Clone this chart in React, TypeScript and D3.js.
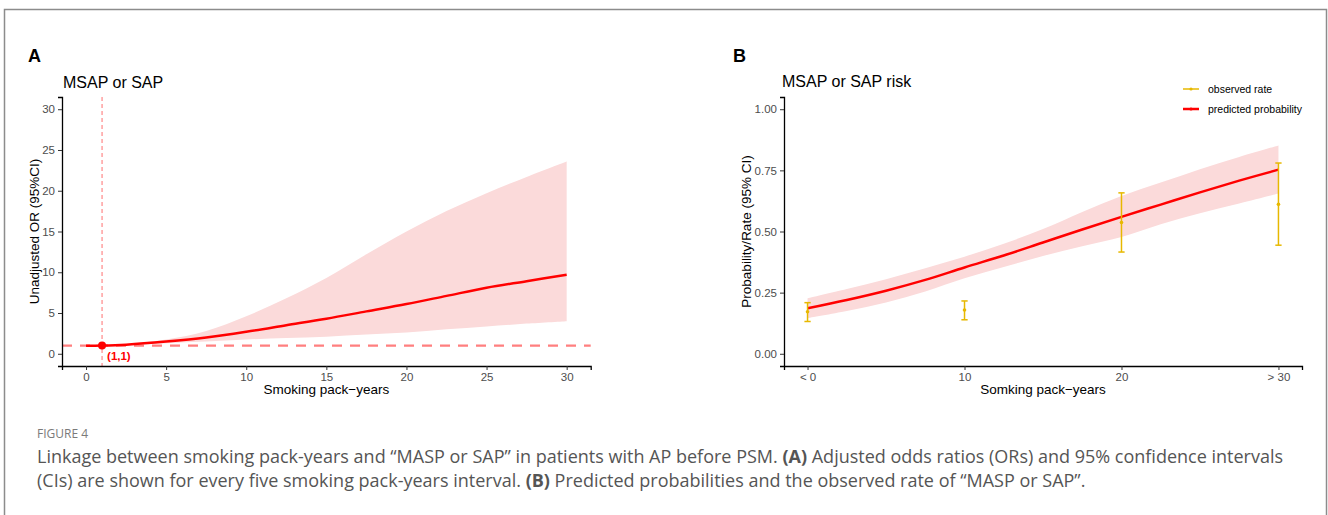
import React, { useEffect, useRef } from 'react';
import * as d3 from 'd3';

// panel A: unadjusted OR by smoking pack-years
const orX = [0, 1, 2.5, 5, 7.5, 10, 12.5, 15, 17.5, 20, 22.5, 25, 27.5, 30];
const orFit = [0.97, 1, 1.12, 1.5, 2.0, 2.7, 3.5, 4.3, 5.2, 6.1, 7.1, 8.1, 8.9, 9.7];
const orLow = [0.95, 1, 1.05, 1.3, 1.5, 1.75, 1.95, 2.1, 2.35, 2.6, 3.0, 3.35, 3.7, 4.0];
const orHigh = [0.99, 1, 1.2, 1.75, 2.8, 4.6, 6.8, 9.3, 12.2, 15.0, 17.5, 19.7, 21.7, 23.6];
const orTicksY = [0, 5, 10, 15, 20, 25, 30];
const orTicksX = [0, 5, 10, 15, 20, 25, 30];

// panel B: predicted probability and observed rate
const probX = [0, 2.5, 5, 7.5, 10, 12.5, 15, 17.5, 20, 22.5, 25, 27.5, 30];
const probFit = [0.186, 0.22, 0.258, 0.302, 0.353, 0.402, 0.455, 0.508, 0.56, 0.61, 0.66, 0.708, 0.753];
const probLow = [0.146, 0.175, 0.21, 0.255, 0.309, 0.355, 0.4, 0.44, 0.478, 0.53, 0.575, 0.615, 0.655];
const probHigh = [0.227, 0.265, 0.305, 0.35, 0.397, 0.45, 0.51, 0.58, 0.645, 0.7, 0.755, 0.805, 0.852];
const obsX = [0, 10, 20, 30];
const obsRate = [0.172, 0.179, 0.537, 0.611];
const obsLow = [0.132, 0.139, 0.416, 0.444];
const obsHigh = [0.209, 0.216, 0.658, 0.78];
const probTicksY = [0, 0.25, 0.5, 0.75, 1];
const probTicksX = [0, 10, 20, 30];
const probTickLabels = ['< 0', '10', '20', '> 30'];
const legendLabels = ['observed rate', 'predicted probability'];

const FONT = '"Liberation Sans", Arial, sans-serif';
const CAP_FONT = '"Open Sans", sans-serif';
const RED = '#FF0000';
const GOLD = '#E7B800';
const BAND = '#FBDADA';

const App = () => {
  const ref = useRef<SVGSVGElement>(null);

  useEffect(() => {
    const svg = d3.select(ref.current);
    svg.selectAll('*').remove();
    svg.attr('width', 1328).attr('height', 515).style('font-family', FONT);

    // outer frame
    svg.append('rect')
      .attr('x', 4.5).attr('y', 9.5).attr('width', 1322).attr('height', 600)
      .attr('fill', 'none').attr('stroke', '#8c8c8c').attr('stroke-width', 1.5);

    const styleAxis = (g: any) => {
      g.select('.domain').attr('stroke', '#000').attr('stroke-width', 1.3);
      g.selectAll('.tick line').attr('stroke', '#333').attr('stroke-width', 1);
      g.selectAll('.tick text').attr('fill', '#4D4D4D').style('font-size', '11.5px').style('font-family', FONT);
    };

    // ---------- Panel A ----------
    const xA = d3.scaleLinear().domain([-1.5, 31.5]).range([62, 590.7]);
    const yA = d3.scaleLinear().domain([-1.5, 31.5]).range([366, 97]);

    svg.append('text').attr('x', 28).attr('y', 62).text('A')
      .style('font-size', '18px').style('font-weight', 'bold');
    svg.append('text').attr('x', 63).attr('y', 88).text('MSAP or SAP').style('font-size', '16px');

    const bandA = d3.area<number>()
      .curve(d3.curveCatmullRom)
      .x((_, i) => xA(orX[i]))
      .y0((_, i) => yA(orLow[i]))
      .y1((_, i) => yA(orHigh[i]));
    svg.append('path').datum(orX).attr('d', bandA).attr('fill', BAND);

    svg.append('line')
      .attr('x1', xA(1)).attr('x2', xA(1)).attr('y1', 97).attr('y2', 366)
      .attr('stroke', '#FF6F6F').attr('stroke-width', 1).attr('stroke-dasharray', '4,3');
    svg.append('line')
      .attr('x1', 62).attr('x2', 590.7).attr('y1', yA(1)).attr('y2', yA(1))
      .attr('stroke', '#FF7F7F').attr('stroke-width', 2.2).attr('stroke-dasharray', '10,8');

    const lineA = d3.line<number>()
      .curve(d3.curveCatmullRom)
      .x((_, i) => xA(orX[i]))
      .y((_, i) => yA(orFit[i]));
    svg.append('path').datum(orX).attr('d', lineA)
      .attr('fill', 'none').attr('stroke', RED).attr('stroke-width', 2.5);

    svg.append('circle').attr('cx', xA(1)).attr('cy', yA(1)).attr('r', 4).attr('fill', RED);
    svg.append('text').attr('x', xA(1) + 5).attr('y', yA(1) + 14).text('(1,1)')
      .attr('fill', RED).style('font-size', '11.5px').style('font-weight', 'bold');

    svg.append('g').attr('transform', 'translate(0,366)')
      .call(d3.axisBottom(xA).tickValues(orTicksX).tickSizeOuter(0).tickSize(4).tickPadding(3))
      .call(styleAxis);
    svg.append('g').attr('transform', 'translate(62,0)')
      .call(d3.axisLeft(yA).tickValues(orTicksY).tickSizeOuter(0).tickSize(4).tickPadding(3))
      .call(styleAxis);

    svg.append('text').attr('x', (62 + 590.7) / 2).attr('y', 394).attr('text-anchor', 'middle')
      .text('Smoking pack\u2212years').style('font-size', '13.5px');
    svg.append('text').attr('transform', `translate(39,${(97 + 366) / 2}) rotate(-90)`)
      .attr('text-anchor', 'middle').text('Unadjusted OR (95%CI)').style('font-size', '13.5px');

    // ---------- Panel B ----------
    const xB = d3.scaleLinear().domain([-1.5, 31.5]).range([784, 1302]);
    const yB = d3.scaleLinear().domain([-0.05, 1.05]).range([366, 97]);

    svg.append('text').attr('x', 733).attr('y', 62).text('B')
      .style('font-size', '18px').style('font-weight', 'bold');
    svg.append('text').attr('x', 782).attr('y', 87).text('MSAP or SAP risk').style('font-size', '16px');

    const bandB = d3.area<number>()
      .curve(d3.curveCatmullRom)
      .x((_, i) => xB(probX[i]))
      .y0((_, i) => yB(probLow[i]))
      .y1((_, i) => yB(probHigh[i]));
    svg.append('path').datum(probX).attr('d', bandB).attr('fill', BAND);

    const lineB = d3.line<number>()
      .curve(d3.curveCatmullRom)
      .x((_, i) => xB(probX[i]))
      .y((_, i) => yB(probFit[i]));
    svg.append('path').datum(probX).attr('d', lineB)
      .attr('fill', 'none').attr('stroke', RED).attr('stroke-width', 2.5);

    const obs = svg.append('g');
    obsX.forEach((x, i) => {
      const cx = xB(x);
      const half = xB(x + 0.2) - cx;
      obs.append('line').attr('x1', cx).attr('x2', cx).attr('y1', yB(obsLow[i])).attr('y2', yB(obsHigh[i]))
        .attr('stroke', GOLD).attr('stroke-width', 1.5);
      [obsLow[i], obsHigh[i]].forEach(v => {
        obs.append('line').attr('x1', cx - half).attr('x2', cx + half).attr('y1', yB(v)).attr('y2', yB(v))
          .attr('stroke', GOLD).attr('stroke-width', 1.5);
      });
      obs.append('circle').attr('cx', cx).attr('cy', yB(obsRate[i])).attr('r', 1.8).attr('fill', GOLD);
    });

    svg.append('g').attr('transform', 'translate(0,366)')
      .call(d3.axisBottom(xB).tickValues(probTicksX).tickSizeOuter(0).tickSize(4).tickPadding(3)
        .tickFormat((_, i) => probTickLabels[i]))
      .call(styleAxis);
    svg.append('g').attr('transform', 'translate(784,0)')
      .call(d3.axisLeft(yB).tickValues(probTicksY).tickSizeOuter(0).tickSize(4).tickPadding(3)
        .tickFormat(d3.format('.2f')))
      .call(styleAxis);

    svg.append('text').attr('x', (784 + 1302) / 2).attr('y', 394).attr('text-anchor', 'middle')
      .text('Somking pack\u2212years').style('font-size', '13.5px');
    svg.append('text').attr('transform', `translate(751,${(97 + 366) / 2}) rotate(-90)`)
      .attr('text-anchor', 'middle').text('Probability/Rate (95% CI)').style('font-size', '13.5px');

    // legend
    const legendColors = [GOLD, RED];
    const legendWidths = [1.5, 2.5];
    legendLabels.forEach((lab, i) => {
      const y = 89 + i * 20;
      svg.append('line').attr('x1', 1183).attr('x2', 1199).attr('y1', y).attr('y2', y)
        .attr('stroke', legendColors[i]).attr('stroke-width', legendWidths[i]);
      svg.append('circle').attr('cx', 1191).attr('cy', y).attr('r', 1.6).attr('fill', legendColors[i]);
      svg.append('text').attr('x', 1208).attr('y', y + 3.8).text(lab).style('font-size', '10.5px');
    });

    // ---------- caption ----------
    svg.append('text').attr('x', 37).attr('y', 438).text('FIGURE 4')
      .attr('fill', '#7a7a7a').style('font-size', '12px').style('font-family', CAP_FONT);

    const cap1 = svg.append('text').attr('x', 37).attr('y', 463)
      .attr('fill', '#555').style('font-size', '18px').style('font-family', CAP_FONT);
    cap1.append('tspan').text('Linkage between smoking pack-years and \u201cMASP or SAP\u201d in patients with AP before PSM. ');
    cap1.append('tspan').text('(A)').style('font-weight', 'bold');
    cap1.append('tspan').text(' Adjusted odds ratios (ORs) and 95% confidence intervals');

    const cap2 = svg.append('text').attr('x', 37).attr('y', 487)
      .attr('fill', '#555').style('font-size', '18px').style('font-family', CAP_FONT);
    cap2.append('tspan').text('(CIs) are shown for every five smoking pack-years interval. ');
    cap2.append('tspan').text('(B)').style('font-weight', 'bold');
    cap2.append('tspan').text(' Predicted probabilities and the observed rate of \u201cMASP or SAP\u201d.');
  }, []);

  return (
    <div style={{ position: 'absolute', left: 0, top: 0 }}>
      <svg ref={ref}></svg>
    </div>
  );
};

export default App;
